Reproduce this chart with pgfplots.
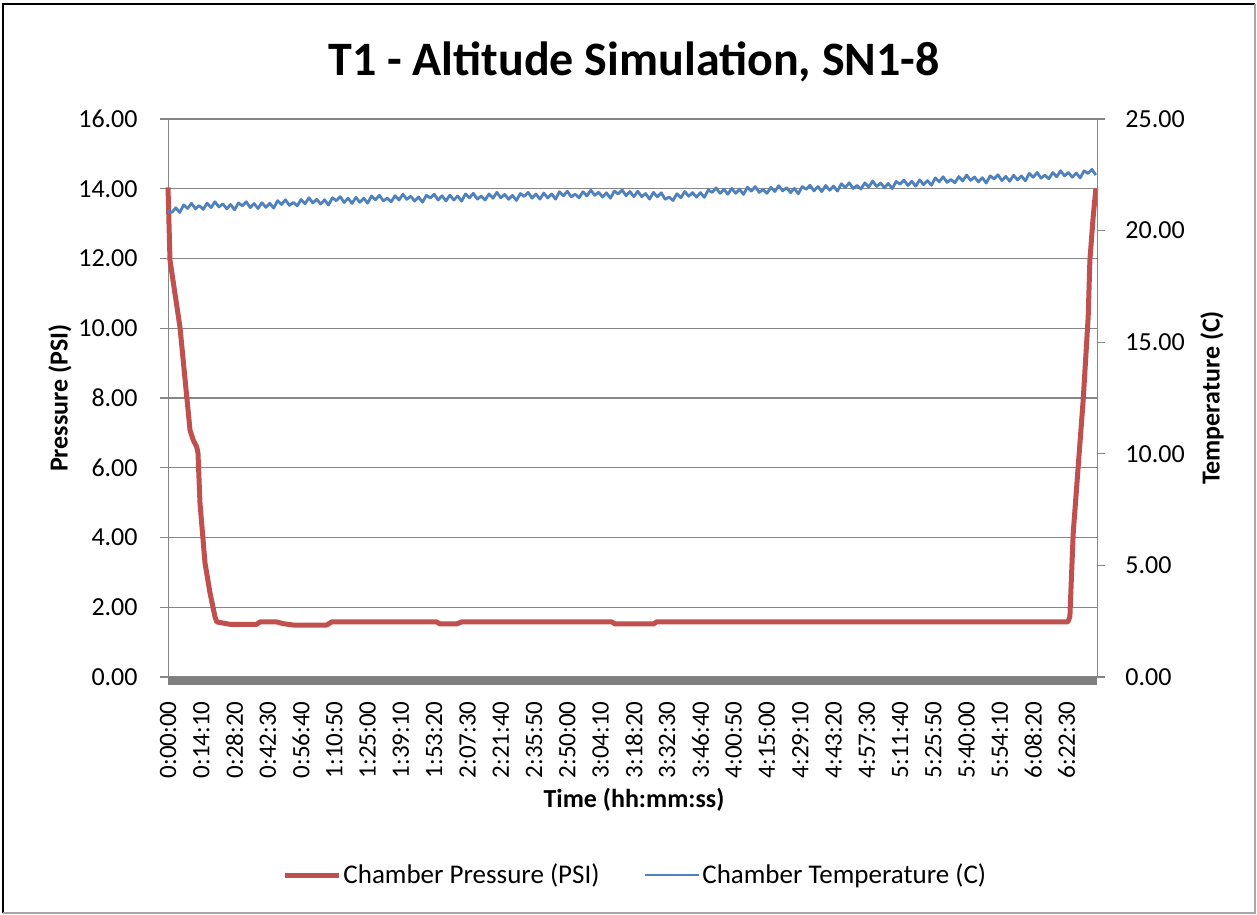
\documentclass[border=0pt]{standalone}
\usepackage{pgfplots}
\pgfplotsset{compat=1.18}
\usepackage{fontspec}
\setmainfont{Carlito}
\definecolor{pres}{HTML}{C0504D}
\definecolor{temp}{HTML}{4F81BD}
\definecolor{gridc}{HTML}{868686}
\begin{document}
\begin{tikzpicture}[x=0.5pt,y=0.5pt]
\fill[white] (0,0) rectangle (1257,914);
\draw[black, line width=1.2pt] (3,1) -- (3,910) -- (1255,910);
\draw[gray!70, line width=1.2pt] (1255,910) -- (1255,1) -- (3,1);
\node[font=\fontsize{24}{28}\selectfont\bfseries] at (634,852) {T1 - Altitude Simulation, SN1-8};
\node[font=\fontsize{13}{15}\selectfont\bfseries, rotate=90] at (60,516) {Pressure (PSI)};
\node[font=\fontsize{13}{15}\selectfont\bfseries, rotate=90] at (1212,516) {Temperature (C)};
\node[font=\fontsize{13}{15}\selectfont\bfseries] at (634,114) {Time (hh:mm:ss)};
\begin{axis}[
  at={(84pt,118.5pt)}, anchor=south west,
  width=464.5pt, height=279pt, scale only axis,
  xmin=0, xmax=23730, ymin=0, ymax=16,
  clip=false,
  scaled x ticks=false,
  axis line style={gridc},
  xtick={0,850,...,22950},
  xticklabels={0:00:00,0:14:10,0:28:20,0:42:30,0:56:40,1:10:50,1:25:00,1:39:10,1:53:20,2:07:30,2:21:40,2:35:50,2:50:00,3:04:10,3:18:20,3:32:30,3:46:40,4:00:50,4:15:00,4:29:10,4:43:20,4:57:30,5:11:40,5:25:50,5:40:00,5:54:10,6:08:20,6:22:30},
  xticklabel style={rotate=90, anchor=east, inner sep=0pt, font=\fontsize{12.5}{15}\selectfont},
  xticklabel shift=8pt,
  x tick style={draw=none},
  ytick={0,2,...,16},
  yticklabel style={anchor=east, inner sep=0pt, font=\fontsize{13}{15}\selectfont},
  yticklabel shift=11pt,
  y tick style={gridc, line width=0.6pt},
  tick align=outside, major tick length=4pt,
  ymajorgrids, grid style={gridc, line width=0.6pt},
  yticklabel pos=left,
  ytick pos=left,
  /pgf/number format/.cd, fixed, fixed zerofill, precision=2, assume math mode=true,
]
\addplot[pres, line width=2.5pt, line join=round] coordinates {
(0,14.04) (51,11.95) (306,10.03) (562,7.08) (646,6.79) (733,6.6) (766,6.42) (817,4.99) (945,3.27) (1073,2.41) (1200,1.73) (1244,1.58)
(1583,1.51) (2265,1.51) (2350,1.58) (2776,1.58) (2937,1.53) (3201,1.49) (4053,1.49) (4180,1.58)
(6862,1.58) (6947,1.52) (7373,1.52) (7500,1.58) (11340,1.58) (11420,1.52) (12400,1.52) (12480,1.58)
(22986,1.58) (23037,1.73) (23122,4.12) (23249,6.03) (23377,7.94) (23505,10.33) (23548,11.95) (23632,13.19) (23701,14.01)
};
\draw[gridc!95!black, line width=4pt] ([yshift=-2pt]rel axis cs:0,0) -- ([yshift=-2pt]rel axis cs:1,0);
\end{axis}
\begin{axis}[
  at={(84pt,118.5pt)}, anchor=south west,
  width=464.5pt, height=279pt, scale only axis,
  xmin=0, xmax=23730, ymin=0, ymax=25,
  axis line style={gridc},
  axis x line=none,
  axis y line*=right,
  ytick={0,5,...,25},
  yticklabel style={anchor=west, inner sep=0pt, font=\fontsize{13}{15}\selectfont},
  yticklabel shift=10pt,
  y tick style={gridc, line width=0.6pt},
  tick align=outside, major tick length=4pt,
  /pgf/number format/.cd, fixed, fixed zerofill, precision=2, assume math mode=true,
  /pgfplots/.cd,
  legend columns=2,
  legend style={draw=none, fill=none, at={(0.503,-0.355)}, anchor=center,
    font=\fontsize{13.5}{15}\selectfont, nodes={inner sep=1pt},
    /tikz/every even column/.append style={column sep=21pt}},
  legend cell align=left,
  legend image code/.code={\draw[#1] (0pt,0pt) -- (27pt,0pt);},
]
\addlegendimage{pres, line width=2.5pt}
\addlegendentry{Chamber Pressure (PSI)}
\addplot[temp, line width=1.4pt, line join=round] coordinates {
(0,20.85) (100,20.82) (200,21.02) (300,20.81) (400,21.15) (500,20.99) (600,21.22) (700,20.98) (800,21.12) (900,20.95)
(1000,21.23) (1100,21.03) (1200,21.29) (1300,21.06) (1400,21.20) (1500,20.98) (1600,21.17) (1700,20.93) (1800,21.24) (1900,21.11)
(2000,21.29) (2100,21.03) (2200,21.21) (2300,20.99) (2400,21.25) (2500,21.04) (2600,21.22) (2700,21.01) (2800,21.34) (2900,21.17)
(3000,21.38) (3100,21.13) (3200,21.26) (3300,21.11) (3400,21.39) (3500,21.20) (3600,21.47) (3700,21.24) (3800,21.40) (3900,21.19)
(4000,21.38) (4100,21.15) (4200,21.47) (4300,21.34) (4400,21.52) (4500,21.26) (4600,21.45) (4700,21.22) (4800,21.49) (4900,21.27)
(5000,21.45) (5100,21.23) (5200,21.55) (5300,21.38) (5400,21.58) (5500,21.33) (5600,21.45) (5700,21.29) (5800,21.56) (5900,21.37)
(6000,21.63) (6100,21.40) (6200,21.54) (6300,21.32) (6400,21.51) (6500,21.27) (6600,21.58) (6700,21.46) (6800,21.63) (6900,21.37)
(7000,21.56) (7100,21.33) (7200,21.59) (7300,21.37) (7400,21.55) (7500,21.32) (7600,21.64) (7700,21.47) (7800,21.67) (7900,21.41)
(8000,21.54) (8100,21.37) (8200,21.64) (8300,21.45) (8400,21.71) (8500,21.47) (8600,21.62) (8700,21.40) (8800,21.58) (8900,21.35)
(9000,21.66) (9100,21.53) (9200,21.71) (9300,21.45) (9400,21.64) (9500,21.41) (9600,21.68) (9700,21.46) (9800,21.64) (9900,21.41)
(10000,21.74) (10100,21.56) (10200,21.76) (10300,21.51) (10400,21.63) (10500,21.47) (10600,21.74) (10700,21.55) (10800,21.81) (10900,21.58)
(11000,21.72) (11100,21.50) (11200,21.69) (11300,21.45) (11400,21.77) (11500,21.64) (11600,21.82) (11700,21.56) (11800,21.75) (11900,21.52)
(12000,21.76) (12100,21.52) (12200,21.66) (12300,21.41) (12400,21.71) (12500,21.51) (12600,21.69) (12700,21.40) (12800,21.50) (12900,21.35)
(13000,21.65) (13100,21.47) (13200,21.75) (13300,21.54) (13400,21.70) (13500,21.50) (13600,21.70) (13700,21.49) (13800,21.82) (13900,21.71)
(14000,21.91) (14100,21.67) (14200,21.85) (14300,21.63) (14400,21.89) (14500,21.67) (14600,21.85) (14700,21.62) (14800,21.94) (14900,21.77)
(15000,21.97) (15100,21.71) (15200,21.84) (15300,21.67) (15400,21.94) (15500,21.75) (15600,22.01) (15700,21.78) (15800,21.92) (15900,21.70)
(16000,21.89) (16100,21.65) (16200,21.97) (16300,21.85) (16400,22.03) (16500,21.78) (16600,21.97) (16700,21.75) (16800,22.02) (16900,21.81)
(17000,21.99) (17100,21.77) (17200,22.10) (17300,21.93) (17400,22.14) (17500,21.89) (17600,22.02) (17700,21.86) (17800,22.14) (17900,21.95)
(18000,22.22) (18100,21.98) (18200,22.13) (18300,21.92) (18400,22.11) (18500,21.88) (18600,22.20) (18700,22.08) (18800,22.26) (18900,22.02)
(19000,22.21) (19100,21.99) (19200,22.27) (19300,22.06) (19400,22.24) (19500,22.03) (19600,22.36) (19700,22.19) (19800,22.41) (19900,22.16)
(20000,22.29) (20100,22.14) (20200,22.42) (20300,22.22) (20400,22.49) (20500,22.25) (20600,22.40) (20700,22.18) (20800,22.37) (20900,22.13)
(21000,22.45) (21100,22.32) (21200,22.50) (21300,22.24) (21400,22.43) (21500,22.21) (21600,22.48) (21700,22.27) (21800,22.45) (21900,22.23)
(22000,22.56) (22100,22.39) (22200,22.60) (22300,22.35) (22400,22.48) (22500,22.32) (22600,22.60) (22700,22.41) (22800,22.68) (22900,22.45)
(23000,22.60) (23100,22.39) (23200,22.58) (23300,22.36) (23400,22.68) (23500,22.56) (23600,22.74) (23700,22.49)
};
\addlegendentry{Chamber Temperature (C)}
\end{axis}
\end{tikzpicture}
\end{document}
